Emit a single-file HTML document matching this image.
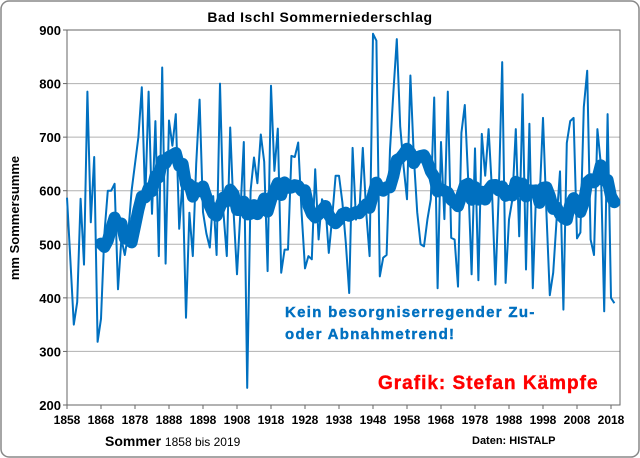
<!DOCTYPE html>
<html><head><meta charset="utf-8"><style>
body{margin:0;background:#fff;}
svg{display:block;font-family:"Liberation Sans",Arial,sans-serif;}
</style></head><body>
<svg id="chart" width="640" height="458">
<rect x="1" y="1" width="638" height="456" rx="8" fill="#fff" stroke="#888" stroke-width="1.5"/>
<text x="320" y="22" text-anchor="middle" font-size="14" font-weight="bold" letter-spacing="0.6">Bad Ischl Sommerniederschlag</text>
<text transform="translate(19,218) rotate(-90)" text-anchor="middle" font-size="13" font-weight="bold">mm Sommersumme</text>
<g id="grid"></g><g id="yt"></g><g id="xt"></g>
<rect x="67" y="30" width="553" height="375" fill="none" stroke="#666" stroke-width="1"/>
<g id="series"></g>
<text x="285" y="317" font-size="15" font-weight="bold" fill="#0070c0" letter-spacing="1.3" stroke="#0070c0" stroke-width="0.4">Kein besorgniserregender Zu-</text>
<text x="285" y="339" font-size="15" font-weight="bold" fill="#0070c0" letter-spacing="1.3" stroke="#0070c0" stroke-width="0.4">oder Abnahmetrend!</text>
<text x="378" y="389" font-size="19" font-weight="bold" fill="#ff0000" letter-spacing="1" stroke="#ff0000" stroke-width="0.4">Grafik: Stefan Kämpfe</text>
<text x="105" y="446" font-size="14" font-weight="bold">Sommer <tspan font-size="12" font-weight="normal">1858 bis 2019</tspan></text>
<text x="472" y="444" font-size="11" font-weight="bold">Daten: HISTALP</text>
</svg>
<script>
const startYear = 1858;
const values = [587,470,350,392,585,462,785,541,663,318,361,520,600,600,613,416,510,480,520,600,650,700,793,580,785,557,730,478,830,464,731,684,743,529,620,363,559,478,650,770,
560,520,494,590,480,800,560,478,718,560,444,560,691,232,600,662,614,705,654,450,796,637,716,447,490,490,665,663,690,559,455,478,472,640,509,584,572,484,550,628,628,578,503,409,680,546,560,680,560,478,893,880,440,475,480,677,784,883,720,645,584,815,664,560,500,496,546,584,774,418,691,547,785,512,509,421,708,760,
620,444,679,433,706,628,715,600,425,597,840,428,546,584,715,515,780,453,725,418,603,584,736,560,405,447,546,636,378,689,730,736,511,522,756,824,509,480,715,650,375,743,400,390];
const yTicks = [200,300,400,500,600,700,800,900];
const xTickLabels = [1858,1868,1878,1888,1898,1908,1918,1928,1938,1948,1958,1968,1978,1988,1998,2008,2018];
const smoothWindow = 11;

const NS="http://www.w3.org/2000/svg";
const X0=67,X1=620,Y0=405,Y1=30;
const xs=y=>X0+(y-startYear)*(611-67)/160;
const ys=v=>Y0-(v-200)*(Y0-Y1)/700;
function mk(t,a,p){const e=document.createElementNS(NS,t);for(const k in a)e.setAttribute(k,a[k]);p.appendChild(e);return e;}
const grid=document.getElementById('grid'),yt=document.getElementById('yt'),xt=document.getElementById('xt'),ser=document.getElementById('series');
yTicks.forEach(v=>{
  const l=mk('line',{x1:X0,x2:X1,y1:ys(v),y2:ys(v),stroke:'#b0b0b0','stroke-width':1},grid);
  
  
  mk('line',{x1:X0-4,x2:X0,y1:ys(v),y2:ys(v),stroke:'#666'},yt);
  const t=mk('text',{x:X0-6,y:ys(v)+5,'text-anchor':'end','font-size':13,'font-weight':'bold'},yt);
  t.textContent=v;
  
  
});
xTickLabels.forEach(y=>{
  mk('line',{x1:xs(y),x2:xs(y),y1:Y0,y2:Y0+4,stroke:'#666'},xt);
  const t=mk('text',{x:xs(y),y:Y0+19,'text-anchor':'middle','font-size':12,'font-weight':'bold'},xt);
  t.textContent=y;
  
  
});
const pts=values.map((v,i)=>xs(startYear+i).toFixed(1)+','+ys(v).toFixed(1)).join(' ');
const raw=mk('polyline',{points:pts,fill:'none',stroke:'#0070c0','stroke-width':2,'stroke-linejoin':'round'},ser);


const sm=[];
for(let i=smoothWindow-1;i<values.length;i++){let s=0;for(let j=i-smoothWindow+1;j<=i;j++)s+=values[j];sm.push(xs(startYear+i).toFixed(1)+','+ys(s/smoothWindow).toFixed(1));}
const mv=mk('polyline',{points:sm.join(' '),fill:'none',stroke:'#0070c0','stroke-width':12,'stroke-linejoin':'round','stroke-linecap':'round'},ser);


</script>
</body></html>
